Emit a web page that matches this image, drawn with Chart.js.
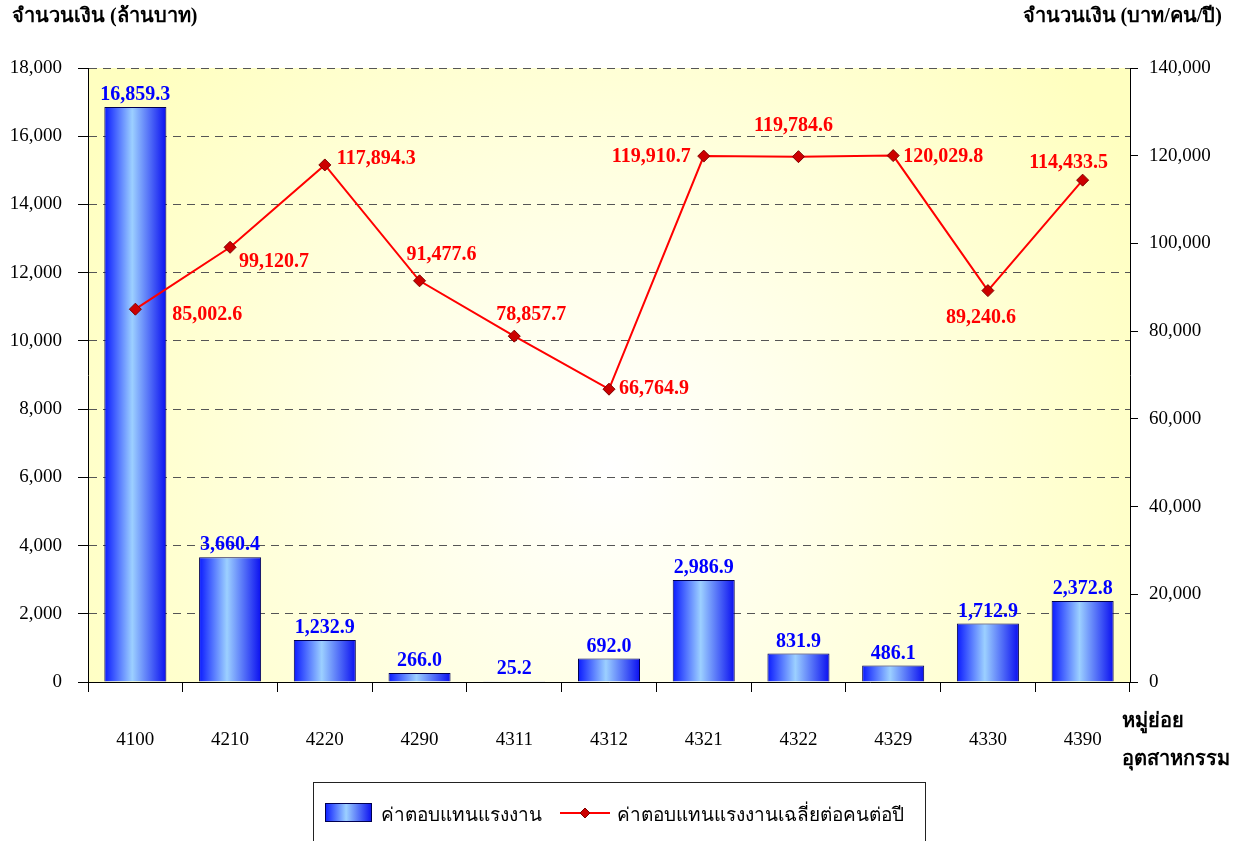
<!DOCTYPE html>
<html>
<head>
<meta charset="utf-8">
<script src="https://cdn.jsdelivr.net/npm/chart.js@4.4.1/dist/chart.umd.min.js"></script>
<style>
html, body { margin: 0; padding: 0; background: #fff; }
#wrap { width: 1246px; height: 841px; position: relative; }
</style>
</head>
<body>
<div id="wrap"><canvas id="Chart1"></canvas></div>
<script>
// data
var categories = ["4100", "4210", "4220", "4290", "4311", "4312", "4321", "4322", "4329", "4330", "4390"];
var wages = [16859.3, 3660.4, 1232.9, 266.0, 25.2, 692.0, 2986.9, 831.9, 486.1, 1712.9, 2372.8];
var avgWages = [85002.6, 99120.7, 117894.3, 91477.6, 78857.7, 66764.9, 119910.7, 119784.6, 120029.8, 89240.6, 114433.5];
var leftMax = 18000, leftStep = 2000;
var rightMax = 140000, rightStep = 20000;
var seriesNames = ["ค่าตอบแทนแรงงาน", "ค่าตอบแทนแรงงานเฉลี่ยต่อคนต่อปี"];
var leftTitle = "จำนวนเงิน (ล้านบาท)";
var rightTitle = "จำนวนเงิน (บาท/คน/ปี)";
var xTitle = ["หมู่ย่อย", "อุตสาหกรรม"];

var serif = "'Liberation Serif', 'Times New Roman', 'DejaVu Serif', serif";
var sans = "'DejaVu Sans', 'Noto Sans', sans-serif";
var barPct = 0.655;

// where each line label sits relative to its point: dx, dy, align
var linePlace = [
    [37, 6, 'left'], [9, 15, 'left'], [12, -6, 'left'], [22, -26, 'center'],
    [17, -21, 'center'], [10, 0, 'left'], [-13, 1, 'right'], [-5, -31, 'center'],
    [10, 1, 'left'], [-7, 27, 'center'], [-14, -17, 'center']
];

function fmt1(v) {
    return v.toLocaleString('en-US', { minimumFractionDigits: 1, maximumFractionDigits: 1 });
}

function blueGrad(c, x0, x1) {
    var g = c.createLinearGradient(x0, 0, x1, 0);
    g.addColorStop(0, '#0a1aff');
    g.addColorStop(0.45, '#9cd0ff');
    g.addColorStop(1, '#0a0ff0');
    return g;
}

function barFill(context) {
    var chart = context.chart;
    var xs = chart.scales.x;
    if (context.type !== 'data' || !xs || !chart.chartArea) return '#5a8cff';
    var cx = xs.getPixelForValue(context.dataIndex);
    var w = (chart.chartArea.width / categories.length) * barPct;
    return blueGrad(chart.ctx, cx - w / 2, cx + w / 2);
}

var decorPlugin = {
    id: 'decor',
    beforeDraw: function (chart) {
        var ctx = chart.ctx, a = chart.chartArea;
        ctx.save();
        ctx.fillStyle = '#fff';
        ctx.fillRect(0, 0, chart.width, chart.height);
        var cx = a.left + a.width * 0.5, cy = a.top + a.height * 0.65;
        var g = ctx.createRadialGradient(cx, cy, 0, cx, cy, a.width * 0.58);
        g.addColorStop(0, '#ffffff');
        g.addColorStop(1, '#ffffc0');
        ctx.fillStyle = g;
        ctx.fillRect(a.left, a.top, a.width, a.height);
        ctx.restore();
    },
    afterDatasetsDraw: function (chart) {
        var ctx = chart.ctx;
        ctx.save();
        ctx.font = 'bold 20px ' + serif;
        ctx.textBaseline = 'middle';
        // bar labels
        ctx.fillStyle = '#0000ff';
        ctx.textAlign = 'center';
        chart.getDatasetMeta(0).data.forEach(function (el, i) {
            ctx.fillText(fmt1(wages[i]), el.x, el.y - 12);
        });
        // line labels
        ctx.fillStyle = '#ff0000';
        chart.getDatasetMeta(1).data.forEach(function (el, i) {
            var p = linePlace[i];
            ctx.textAlign = p[2];
            ctx.fillText(fmt1(avgWages[i]), el.x + p[0], el.y + p[1]);
        });
        ctx.restore();
    },
    afterDraw: function (chart) {
        var ctx = chart.ctx;
        ctx.save();
        ctx.fillStyle = '#000';
        ctx.font = 'bold 20px ' + serif;
        ctx.textBaseline = 'middle';
        ctx.textAlign = 'left';
        ctx.fillText(leftTitle, 12, 17);
        ctx.textAlign = 'right';
        ctx.fillText(rightTitle, 1222, 17);
        ctx.textAlign = 'left';
        ctx.fillText(xTitle[0], 1122, 722);
        ctx.fillText(xTitle[1], 1122, 760);

        // legend box
        ctx.strokeStyle = '#222';
        ctx.lineWidth = 1;
        ctx.strokeRect(313.5, 782.5, 612, 80);
        ctx.fillStyle = blueGrad(ctx, 325, 372);
        ctx.fillRect(325, 803, 47, 19);
        ctx.strokeStyle = '#000050';
        ctx.strokeRect(325.5, 803.5, 46, 18);
        ctx.strokeStyle = '#ff0000';
        ctx.lineWidth = 2;
        ctx.beginPath();
        ctx.moveTo(560, 813);
        ctx.lineTo(610, 813);
        ctx.stroke();
        ctx.fillStyle = '#cc0000';
        ctx.strokeStyle = '#800000';
        ctx.lineWidth = 1;
        ctx.beginPath();
        ctx.moveTo(585, 808); ctx.lineTo(590, 813); ctx.lineTo(585, 818); ctx.lineTo(580, 813);
        ctx.closePath();
        ctx.fill();
        ctx.stroke();
        ctx.fillStyle = '#000';
        ctx.font = '19px ' + sans;
        ctx.textAlign = 'left';
        ctx.fillText(seriesNames[0], 381, 816);
        ctx.fillText(seriesNames[1], 617, 816);
        ctx.restore();
    }
};

var ctx = document.getElementById('Chart1').getContext('2d');
var myChart = new Chart(ctx, {
    data: {
        labels: categories,
        datasets: [{
            type: 'bar',
            label: seriesNames[0],
            data: wages,
            yAxisID: 'y',
            backgroundColor: barFill,
            borderColor: '#000050',
            borderWidth: 1,
            barPercentage: barPct,
            categoryPercentage: 1,
            order: 2
        }, {
            type: 'line',
            label: seriesNames[1],
            data: avgWages,
            yAxisID: 'y1',
            borderColor: '#ff0000',
            borderWidth: 2,
            pointStyle: 'rectRot',
            pointRadius: 6,
            pointBackgroundColor: '#cc0000',
            pointBorderColor: '#800000',
            pointBorderWidth: 1,
            tension: 0,
            fill: false,
            order: 1
        }]
    },
    options: {
        responsive: true,
        maintainAspectRatio: false,
        animation: false,
        events: [],
        layout: { padding: { top: 68, left: 0, right: 0, bottom: 0 } },
        plugins: { legend: { display: false }, tooltip: { enabled: false } },
        scales: {
            x: {
                offset: true,
                grid: { offset: true, drawOnChartArea: false, tickLength: 10, color: '#000' },
                border: { color: '#000', width: 1 },
                ticks: { color: '#000', font: { family: serif, size: 19 }, padding: 37, maxRotation: 0 },
                afterFit: function (s) { s.height = 159; }
            },
            y: {
                position: 'left',
                min: 0, max: leftMax,
                ticks: { stepSize: leftStep, color: '#000', font: { family: serif, size: 19 }, padding: 16 },
                grid: { color: '#555', lineWidth: 1, tickLength: 10, tickColor: '#000' },
                border: { color: '#000', width: 1, dash: [8, 6] },
                afterFit: function (s) { s.width = 88; }
            },
            y1: {
                position: 'right',
                min: 0, max: rightMax,
                ticks: { stepSize: rightStep, color: '#000', font: { family: serif, size: 19 }, padding: 11 },
                grid: { drawOnChartArea: false, tickLength: 8, color: '#000' },
                border: { color: '#000', width: 1 },
                afterFit: function (s) { s.width = 116; }
            }
        }
    },
    plugins: [decorPlugin]
});
</script>
</body>
</html>
